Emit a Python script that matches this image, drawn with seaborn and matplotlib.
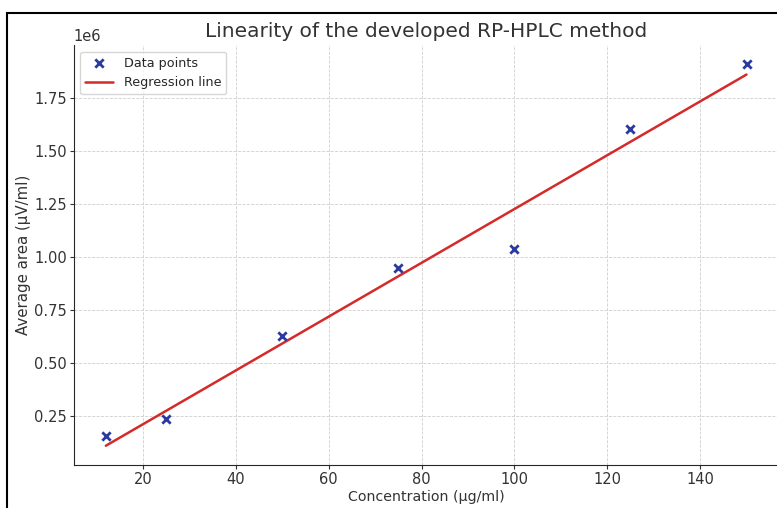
import numpy as np
import matplotlib
matplotlib.use("Agg")
import matplotlib.pyplot as plt
import seaborn as sns
from matplotlib.patches import Rectangle

# concentration (ug/ml) and average peak area
concentration = [12, 25, 50, 75, 100, 125, 150]
avg_area = [0.156e6, 0.236e6, 0.627e6, 0.948e6, 1.036e6, 1.602e6, 1.908e6]

sns.set_style("ticks")
plt.rcParams['font.family'] = ['DejaVu Sans']

x = np.asarray(concentration, dtype=float)
y = np.asarray(avg_area)
slope, intercept = np.polyfit(x, y, 1)
fit = slope * x + intercept

fig = plt.figure(figsize=(7.77, 5.08), dpi=100)
ax = fig.add_axes([0.095, 0.085, 0.907, 0.826])

sns.scatterplot(x=x, y=y, marker='x', color='#2b3a9e', s=36, linewidth=2,
                label='Data points', ax=ax, zorder=3)
sns.lineplot(x=x, y=fit, color='#d42a2a', linewidth=1.8,
             label='Regression line', ax=ax, zorder=2)

ax.grid(True, linestyle='--', linewidth=0.6, color='#cfcfcf')
ax.set_axisbelow(True)
sns.despine(ax=ax)
ax.tick_params(labelsize=10.5, colors='#333333', length=3, pad=2)
ax.yaxis.get_offset_text().set_fontsize(10.5)
ax.yaxis.get_offset_text().set_color('#333333')

ax.set_title("Linearity of the developed RP-HPLC method", fontsize=14.5,
             color='#333333')
ax.set_xlabel("Concentration (µg/ml)", fontsize=10.2, color='#333333',
              labelpad=2)
ax.set_ylabel("Average area (µV/ml)", fontsize=10.8, color='#333333',
              labelpad=2)
ax.legend(loc='upper left', fontsize=9.2, frameon=True, edgecolor='#cccccc',
          handlelength=2.2)

# outer frame of the original (cropped) figure
fig.patches.append(Rectangle((7 / 777, -0.05), 1.1, 1 - 13 / 508 + 0.05,
                             transform=fig.transFigure, fill=False,
                             edgecolor='black', linewidth=1.5))

fig.savefig("out.png", dpi=100)
